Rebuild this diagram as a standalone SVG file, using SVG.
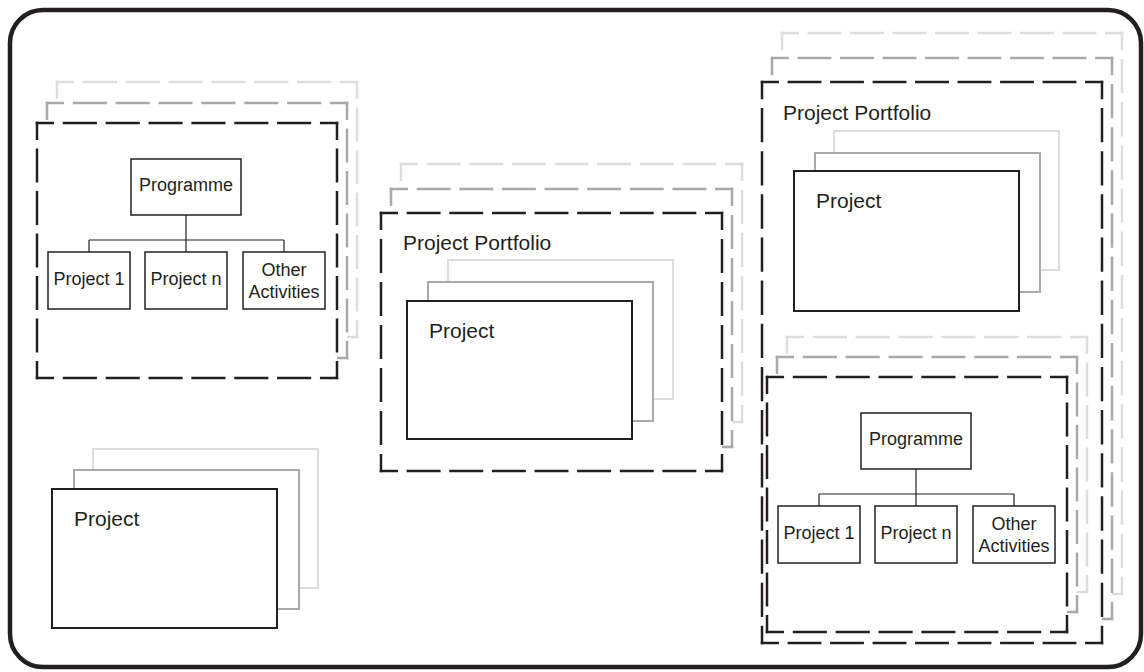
<svg xmlns="http://www.w3.org/2000/svg" xmlns:xlink="http://www.w3.org/1999/xlink" width="1144" height="672" viewBox="0 0 1144 672">
<style>
.dk{stroke:#231f20}
.md{stroke:#a7a9ac}
.lt{stroke:#dcddde}
.proj{fill:#fff;stroke-width:2}
.box{fill:#fff;stroke:#231f20;stroke-width:1.5}
.t18{font-family:"Liberation Sans",Arial,sans-serif;font-size:18px;fill:#231f20;text-anchor:middle}
.t21{font-family:"Liberation Sans",Arial,sans-serif;font-size:21px;fill:#231f20}
.conn{fill:none;stroke:#231f20;stroke-width:1.2}
</style>
<defs>
<g id="d300x255" fill="none" stroke-width="2.5" stroke-dasharray="31 11" stroke-dashoffset="15.5" stroke-linecap="square">
<rect width="300" height="255" fill="#fff" stroke="none"/>
<line x1="0" y1="0" x2="300" y2="0" pathLength="294"/>
<line x1="300" y1="0" x2="300" y2="255" pathLength="252"/>
<line x1="300" y1="255" x2="0" y2="255" pathLength="294"/>
<line x1="0" y1="255" x2="0" y2="0" pathLength="252"/>
</g>
<g id="d341x258" fill="none" stroke-width="2.5" stroke-dasharray="31 11" stroke-dashoffset="15.5" stroke-linecap="square">
<rect width="341" height="258" fill="#fff" stroke="none"/>
<line x1="0" y1="0" x2="341" y2="0" pathLength="336"/>
<line x1="341" y1="0" x2="341" y2="258" pathLength="252"/>
<line x1="341" y1="258" x2="0" y2="258" pathLength="336"/>
<line x1="0" y1="258" x2="0" y2="0" pathLength="252"/>
</g>
<g id="d340x561" fill="none" stroke-width="2.5" stroke-dasharray="31 11" stroke-dashoffset="15.5" stroke-linecap="square">
<rect width="340" height="561" fill="#fff" stroke="none"/>
<line x1="0" y1="0" x2="340" y2="0" pathLength="336"/>
<line x1="340" y1="0" x2="340" y2="561" pathLength="546"/>
<line x1="340" y1="561" x2="0" y2="561" pathLength="336"/>
<line x1="0" y1="561" x2="0" y2="0" pathLength="546"/>
</g>
</defs>

<rect id="frame" x="10" y="10" width="1131" height="657" rx="33" fill="#fff" stroke="#231f20" stroke-width="4.5"/>

<!-- Left programme block -->
<g id="programme-left">
<use xlink:href="#d300x255" x="57" y="82" class="lt"/>
<use xlink:href="#d300x255" x="47" y="103" class="md"/>
<use xlink:href="#d300x255" x="37" y="123" class="dk"/>
</g>
<g id="prog-left">
<rect class="box" x="131" y="159" width="110" height="56"/>
<text class="t18" x="186" y="191">Programme</text>
</g>
<g id="p1-left">
<rect class="box" x="48" y="252" width="82" height="57"/>
<text class="t18" x="89" y="285">Project 1</text>
</g>
<g id="pn-left">
<rect class="box" x="145" y="252" width="82" height="57"/>
<text class="t18" x="186" y="285">Project n</text>
</g>
<g id="other-left">
<rect class="box" x="243" y="252" width="82" height="57"/>
<text class="t18" x="284" y="276">Other</text>
<text class="t18" x="284" y="298">Activities</text>
</g>

<!-- Bottom-left project stack -->
<g id="project-bottom-left">
<rect class="proj lt" x="93" y="449" width="225" height="139"/>
<rect class="proj md" x="74" y="470" width="225" height="139"/>
<rect class="proj dk" x="52" y="489" width="225" height="139"/>
<text class="t21" x="74" y="526">Project</text>
</g>

<!-- Middle portfolio -->
<g id="portfolio-middle">
<use xlink:href="#d341x258" x="401" y="164" class="lt"/>
<use xlink:href="#d341x258" x="391" y="189" class="md"/>
<use xlink:href="#d341x258" x="381" y="213" class="dk"/>
<text class="t21" x="403" y="250">Project Portfolio</text>
</g>
<g id="project-middle">
<rect class="proj lt" x="448" y="260" width="225" height="139"/>
<rect class="proj md" x="428" y="282" width="225" height="139"/>
<rect class="proj dk" x="407" y="301" width="225" height="138"/>
<text class="t21" x="429" y="338">Project</text>
</g>

<!-- Right portfolio -->
<g id="portfolio-right">
<use xlink:href="#d340x561" x="782" y="33" class="lt"/>
<use xlink:href="#d340x561" x="772" y="58" class="md"/>
<use xlink:href="#d340x561" x="762" y="82" class="dk"/>
<text class="t21" x="783" y="120">Project Portfolio</text>
</g>
<g id="project-right">
<rect class="proj lt" x="834" y="131" width="225" height="139"/>
<rect class="proj md" x="815" y="153" width="225" height="139"/>
<rect class="proj dk" x="794" y="171" width="225" height="140"/>
<text class="t21" x="816" y="208">Project</text>
</g>
<g id="programme-right">
<use xlink:href="#d300x255" x="787" y="337" class="lt"/>
<use xlink:href="#d300x255" x="777" y="357" class="md"/>
<use xlink:href="#d300x255" x="767" y="377" class="dk"/>
</g>
<g id="prog-right">
<rect class="box" x="861" y="413" width="110" height="56"/>
<text class="t18" x="916" y="445">Programme</text>
</g>
<g id="p1-right">
<rect class="box" x="778" y="506" width="82" height="57"/>
<text class="t18" x="819" y="539">Project 1</text>
</g>
<g id="pn-right">
<rect class="box" x="875" y="506" width="82" height="57"/>
<text class="t18" x="916" y="539">Project n</text>
</g>
<g id="other-right">
<rect class="box" x="973" y="506" width="82" height="57"/>
<text class="t18" x="1014" y="530">Other</text>
<text class="t18" x="1014" y="552">Activities</text>
</g>

<g id="connectors" class="conn">
<path d="M186 215V240M89 240H284M89 240V252M186 240V252M284 240V252"/>
<path d="M916 469V494M819 494H1014M819 494V506M916 494V506M1014 494V506"/>
</g>
</svg>
